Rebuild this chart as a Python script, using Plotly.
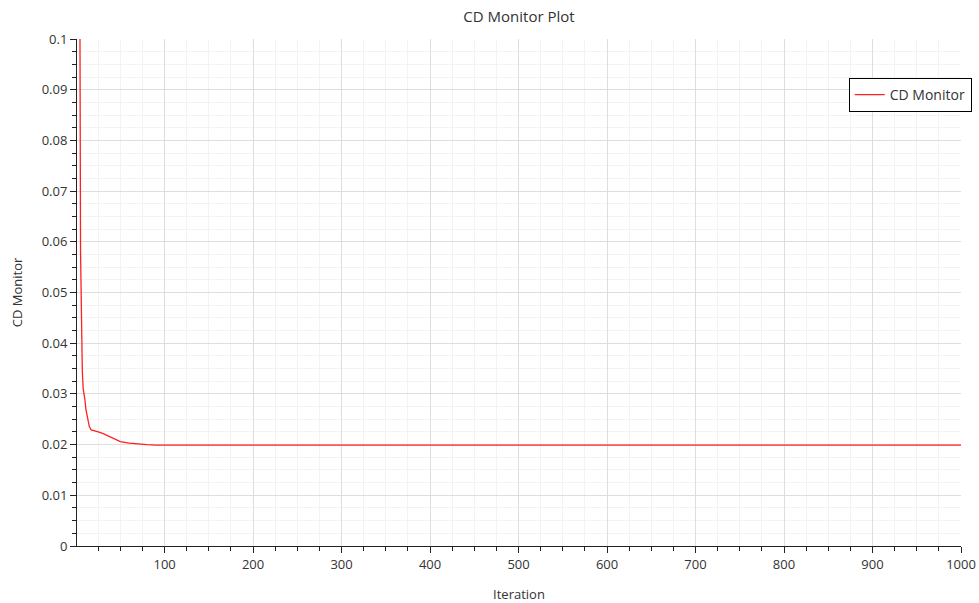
import plotly.graph_objects as go

iterations = [1, 2, 3, 4, 5, 6, 7, 8, 9, 9.5, 10, 11, 13, 15, 17, 20, 25, 30, 35, 40, 45, 50, 60, 70, 80, 90, 100, 1000]
cd_values = [0.45, 0.3, 0.2, 0.125, 0.058, 0.042, 0.0345, 0.031, 0.0298, 0.0302, 0.0288, 0.027, 0.0248, 0.0235, 0.0229, 0.0227, 0.0225, 0.0222, 0.0218, 0.0213, 0.0209, 0.0206, 0.0203, 0.0201, 0.02, 0.0199, 0.0199, 0.0199]

font_family = "Open Sans, Noto Sans, DejaVu Sans, sans-serif"
text_color = "#333333"

fig = go.Figure()
fig.add_trace(go.Scatter(
    x=iterations, y=cd_values, mode="lines", name="CD Monitor",
    line=dict(color="#ff2020", width=1.3),
))

fig.update_layout(
    width=979, height=603,
    margin=dict(l=77, r=18, t=39, b=57, autoexpand=False),
    paper_bgcolor="white", plot_bgcolor="white",
    font=dict(family=font_family, size=13, color=text_color),
    title=dict(text="CD Monitor Plot", xref="paper", x=0.5, xanchor="center",
               y=0.973, yanchor="middle",
               font=dict(size=15, color=text_color)),
    showlegend=True,
    legend=dict(x=0.873, y=0.923, xanchor="left", yanchor="top",
                bgcolor="white", bordercolor="black", borderwidth=1,
                font=dict(size=14, color=text_color), itemwidth=30),
)

fig.update_xaxes(
    range=[1, 1000], tick0=0, dtick=100, automargin=False,
    showline=True, linecolor="#222222", linewidth=1,
    ticks="outside", ticklen=6, tickcolor="#222222",
    showgrid=True, gridcolor="#dedede", gridwidth=1,
    zeroline=False,
    minor=dict(dtick=25, tick0=0, ticks="outside", ticklen=4, tickcolor="#222222",
               showgrid=True, gridcolor="#f3f3f3"),
    title=dict(text="Iteration", font=dict(size=13, color=text_color), standoff=18),
)
fig.update_yaxes(
    range=[0, 0.1], tick0=0, dtick=0.01, automargin=False,
    showline=True, linecolor="#222222", linewidth=1,
    ticks="outside", ticklen=6, tickcolor="#222222",
    showgrid=True, gridcolor="#dedede", gridwidth=1,
    zeroline=False,
    minor=dict(dtick=0.0025, tick0=0, ticks="outside", ticklen=4, tickcolor="#222222",
               showgrid=True, gridcolor="#f3f3f3"),
    title=dict(text="CD Monitor", font=dict(size=13, color=text_color), standoff=16),
)

fig.write_html("out.html", config={"displayModeBar": False},
               post_script="document.body.style.margin='0';")
